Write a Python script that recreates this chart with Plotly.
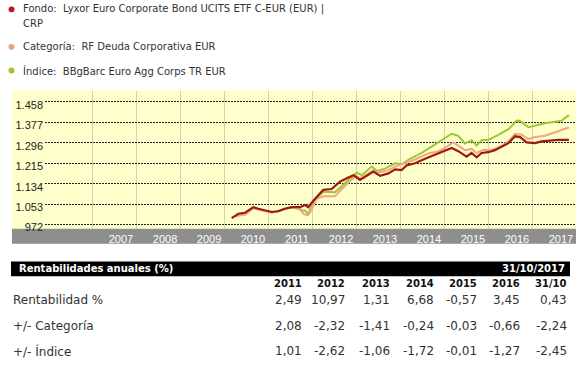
import plotly.graph_objects as go

W, H = 582, 368

# ---------------- data ----------------
fund_dates = ["2010-03-02", "2010-04-26", "2010-06-21", "2010-08-29", "2010-10-09", "2010-12-03",
              "2011-01-28", "2011-03-24", "2011-05-18", "2011-07-12", "2011-09-20", "2011-10-31",
              "2011-11-28", "2012-01-09", "2012-02-19", "2012-04-01", "2012-06-09", "2012-08-17",
              "2012-10-26", "2012-12-07", "2013-01-31", "2013-04-11", "2013-05-22", "2013-07-16",
              "2013-09-23", "2013-11-18", "2014-01-11", "2014-02-22", "2014-05-02", "2014-07-25",
              "2014-10-16", "2015-01-06", "2015-03-03", "2015-04-27", "2015-07-05", "2015-08-15",
              "2015-09-26", "2015-11-06", "2016-01-01", "2016-02-25", "2016-04-21", "2016-06-16",
              "2016-08-10", "2016-09-21", "2016-11-15", "2017-01-23", "2017-03-18", "2017-05-28",
              "2017-08-04", "2017-10-31"]
fund_vals = [998, 1015, 1019, 1041, 1035, 1028,
             1022, 1025, 1035, 1041, 1041, 1050,
             1041, 1067, 1087, 1110, 1113, 1142,
             1159, 1168, 1149, 1168, 1182, 1165,
             1175, 1191, 1188, 1207, 1215, 1233,
             1250, 1267, 1276, 1263, 1241, 1256,
             1239, 1256, 1259, 1267, 1282, 1295,
             1322, 1319, 1298, 1295, 1302, 1306,
             1308, 1308]

cat_dates = ["2010-03-29", "2010-06-21", "2010-08-29", "2010-12-03", "2011-01-28", "2011-04-07",
             "2011-06-01", "2011-07-26", "2011-09-20", "2011-10-17", "2011-11-22", "2011-12-12",
             "2012-02-05", "2012-04-01", "2012-07-07", "2012-09-01", "2012-11-09", "2013-01-03",
             "2013-01-31", "2013-04-11", "2013-05-22", "2013-07-02", "2013-09-23", "2013-11-18",
             "2014-02-08", "2014-05-02", "2014-08-21", "2014-11-13", "2015-01-06", "2015-03-17",
             "2015-04-27", "2015-06-21", "2015-08-15", "2015-09-26", "2015-11-20", "2016-01-28",
             "2016-04-21", "2016-06-16", "2016-08-10", "2016-10-04", "2016-11-29", "2017-01-23",
             "2017-04-16", "2017-07-07", "2017-09-02", "2017-10-31"]
cat_vals = [1006, 1011, 1037, 1027, 1019, 1028,
            1037, 1041, 1032, 1015, 1009, 1019,
            1074, 1084, 1084, 1113, 1145, 1165,
            1155, 1175, 1188, 1178, 1188, 1202,
            1215, 1230, 1254, 1263, 1276, 1298,
            1285, 1267, 1272, 1256, 1269, 1267,
            1285, 1302, 1332, 1328, 1311, 1319,
            1324, 1337, 1345, 1357]

idx_dates = ["2010-03-29", "2010-06-21", "2010-08-29", "2010-12-03", "2011-02-24", "2011-05-18",
             "2011-07-26", "2011-09-20", "2011-10-04", "2011-10-31", "2011-11-28", "2012-01-01",
             "2012-02-19", "2012-04-01", "2012-07-07", "2012-09-01", "2012-11-09", "2013-01-03",
             "2013-02-14", "2013-05-08", "2013-06-19", "2013-08-27", "2013-11-18", "2014-01-11",
             "2014-03-22", "2014-06-27", "2014-10-16", "2015-01-06", "2015-03-03", "2015-04-27",
             "2015-06-21", "2015-08-15", "2015-09-26", "2015-11-06", "2016-01-01", "2016-03-24",
             "2016-06-16", "2016-08-24", "2016-09-21", "2016-11-29", "2017-01-23", "2017-04-16",
             "2017-07-07", "2017-09-02", "2017-10-31"]
idx_vals = [1006, 1014, 1039, 1027, 1022, 1035,
            1041, 1035, 1028, 1028, 1015, 1054,
            1084, 1102, 1100, 1126, 1155, 1178,
            1168, 1202, 1185, 1194, 1215, 1211,
            1233, 1256, 1289, 1315, 1332, 1324,
            1293, 1306, 1285, 1306, 1308, 1328,
            1350, 1384, 1383, 1358, 1365, 1374,
            1380, 1384, 1406]

y_ticks = [972, 1053, 1134, 1215, 1296, 1377, 1458]
y_tick_labels = ["972", "1.053", "1.134", "1.215", "1.296", "1.377", "1.458"]
years = ["2007", "2008", "2009", "2010", "2011", "2012", "2013", "2014", "2015", "2016", "2017"]

legend_names = ["Fondo:", "Categoría:", "Índice:"]
legend_values = ["Lyxor Euro Corporate Bond UCITS ETF C-EUR (EUR) |", "RF Deuda Corporativa EUR",
                 "BBgBarc Euro Agg Corps TR EUR"]

table_title = "Rentabilidades anuales (%)"
table_date = "31/10/2017"
table_cols = ["2011", "2012", "2013", "2014", "2015", "2016", "31/10"]
row_labels = ["Rentabilidad %", "+/- Categoría", "+/- Índice"]
rent_vals = ["2,49", "10,97", "1,31", "6,68", "-0,57", "3,45", "0,43"]
cat_diff = ["2,08", "-2,32", "-1,41", "-0,24", "-0,03", "-0,66", "-2,24"]
idx_diff = ["1,01", "-2,62", "-1,06", "-1,72", "-0,01", "-1,27", "-2,45"]

# ---------------- colours ----------------
C_FUND = "#9E1A10"
C_CAT = "#F0A684"
C_IDX = "#9CC832"
DOT_FUND = "#C0162A"
DOT_CAT = "#E9A17C"
DOT_IDX = "#9DC62E"


def px(x):
    return x / W


def py(y):
    return 1 - y / H


fig = go.Figure()
fig.add_trace(go.Scatter(x=idx_dates, y=idx_vals, mode="lines", line=dict(color=C_IDX, width=2),
                         name="Índice", hoverinfo="skip"))
fig.add_trace(go.Scatter(x=cat_dates, y=cat_vals, mode="lines", line=dict(color=C_CAT, width=2),
                         name="Categoría", hoverinfo="skip"))
fig.add_trace(go.Scatter(x=fund_dates, y=fund_vals, mode="lines", line=dict(color=C_FUND, width=2.2),
                         name="Fondo", hoverinfo="skip"))

x_range = ["2005-12-03", "2017-12-29"]
plot_top, plot_bot, band_bot = 92, 232, 247
left_bg, right_bg = 12, 576

shapes = [
    dict(type="rect", xref="paper", yref="paper", x0=px(left_bg), x1=px(right_bg), y0=py(plot_bot),
         y1=py(plot_top), fillcolor="#FFFFCC", line=dict(width=0), layer="below"),
    dict(type="rect", xref="paper", yref="paper", x0=px(left_bg), x1=px(right_bg), y0=py(band_bot),
         y1=py(plot_bot), fillcolor="#8E8E8E", line=dict(width=0), layer="below"),
    dict(type="rect", xref="paper", yref="paper", x0=px(11), x1=px(570), y0=py(280), y1=py(265),
         fillcolor="#000000", line=dict(width=0), layer="below"),
]
annotations = []

# legend
leg_y = [9.5, 47.5, 71.5]
dot_cols = [DOT_FUND, DOT_CAT, DOT_IDX]
for name, val, yy, col in zip(legend_names, legend_values, leg_y, dot_cols):
    shapes.append(dict(type="circle", xref="paper", yref="paper", x0=px(8.5), x1=px(14.5),
                       y0=py(yy + 3), y1=py(yy - 3), fillcolor=col, line=dict(width=0)))
    annotations.append(dict(xref="paper", yref="paper", x=px(21), y=py(yy), xanchor="left",
                            yanchor="middle", showarrow=False,
                            text=name + "\u00a0\u00a0" + val,
                            font=dict(family="DejaVu Sans", size=10, color="#333333")))
annotations.append(dict(xref="paper", yref="paper", x=px(21), y=py(24), xanchor="left",
                        yanchor="middle", showarrow=False, text="CRP",
                        font=dict(family="DejaVu Sans", size=10, color="#333333")))

# table
annotations.append(dict(xref="paper", yref="paper", x=px(17), y=py(272.5), xanchor="left",
                        yanchor="middle", showarrow=False, text="<b>" + table_title + "</b>",
                        font=dict(family="DejaVu Sans", size=10, color="#FFFFFF")))
annotations.append(dict(xref="paper", yref="paper", x=px(567), y=py(272.5), xanchor="right",
                        yanchor="middle", showarrow=False, text="<b>" + table_date + "</b>",
                        font=dict(family="DejaVu Sans", size=10, color="#FFFFFF")))
col_right = [304, 347, 392, 436, 479, 522, 569]
for c, xr in zip(table_cols, col_right):
    annotations.append(dict(xref="paper", yref="paper", x=px(xr), y=py(287.5), xanchor="right",
                            yanchor="middle", showarrow=False, text="<b>" + c + "</b>",
                            font=dict(family="DejaVu Sans", size=10, color="#111111")))
row_y = [304.5, 330, 356]
for lab, vals, yy in zip(row_labels, [rent_vals, cat_diff, idx_diff], row_y):
    annotations.append(dict(xref="paper", yref="paper", x=px(11), y=py(yy), xanchor="left",
                            yanchor="middle", showarrow=False, text=lab,
                            font=dict(family="DejaVu Sans", size=12, color="#333333")))
    for v, xr in zip(vals, col_right):
        annotations.append(dict(xref="paper", yref="paper", x=px(xr), y=py(yy), xanchor="right",
                                yanchor="middle", showarrow=False, text=v,
                                font=dict(family="DejaVu Sans", size=12, color="#333333")))

year_starts = [f"{y}-01-01" for y in years]
label_pos = [f"{y}-08-26" for y in years]

fig.update_layout(
    width=W, height=H,
    margin=dict(l=0, r=0, t=0, b=0),
    paper_bgcolor="#FFFFFF",
    plot_bgcolor="rgba(0,0,0,0)",
    showlegend=False,
    shapes=shapes,
    annotations=annotations,
    xaxis=dict(type="date", domain=[px(45), px(576)], range=x_range,
               tickmode="array", tickvals=label_pos, ticktext=years,
               showgrid=False, ticks="", zeroline=False, showline=False,
               tickfont=dict(family="Liberation Sans", size=11, color="#FFFFFF"),
               ticklabelstandoff=2,
               minor=dict(tickmode="array", tickvals=year_starts, showgrid=True,
                          gridcolor="#D9D4A6", gridwidth=1, ticks="")),
    yaxis=dict(domain=[py(plot_bot), py(plot_top)], range=[955.2, 1502.5], tickvals=y_ticks,
               ticktext=y_tick_labels, showgrid=True, gridcolor="#222222", griddash="2px,1px",
               gridwidth=1, ticks="", zeroline=False, showline=False,
               tickfont=dict(family="Liberation Sans", size=11, color="#222222"),
               ticklabelstandoff=1, ticklabelshift=3),
)

fig.write_html("out.html", config={"displayModeBar": False, "staticPlot": True},
               post_script="document.body.style.margin='0';")
